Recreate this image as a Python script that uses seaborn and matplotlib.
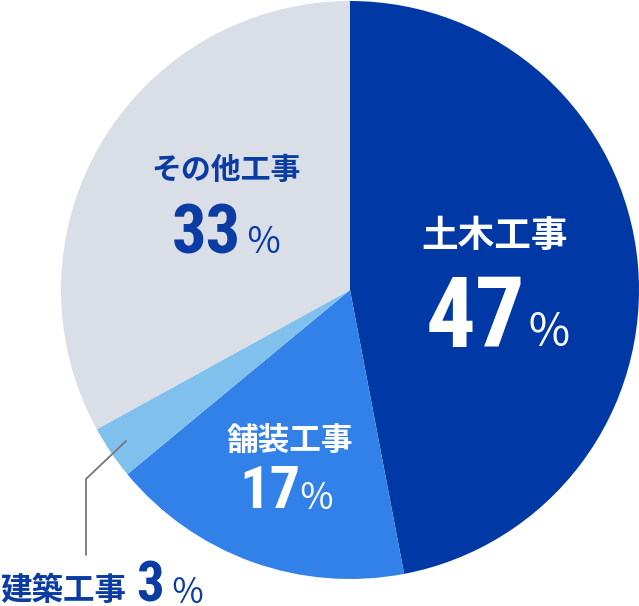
import matplotlib
matplotlib.use("Agg")
import matplotlib.pyplot as plt
from matplotlib.font_manager import FontProperties
from matplotlib.textpath import TextPath
import seaborn as sns

# ---- data ----
categories = ["土木工事", "舗装工事", "建築工事", "その他工事"]
values = [47, 17, 3, 33]
value_labels = ["47", "17", "3", "33"]
pct_sign = "％"
colors = ["#0039a6", "#3281e9", "#7fc1ec", "#d9dee7"]

sns.set_theme(style="white")
plt.rcParams['font.family'] = ['Noto Sans CJK JP', 'DejaVu Sans']

W, H = 639, 606
DPI = 100
fig = plt.figure(figsize=(W / DPI, H / DPI), dpi=DPI)
fig.patch.set_facecolor("white")
# circle: center (350, 290), radius 289 px
cx, cy, r = 350, 290, 289
ax = fig.add_axes([(cx - r) / W, (H - cy - r) / H, 2 * r / W, 2 * r / H])
ax.pie(values, colors=colors, startangle=90, counterclock=False,
       wedgeprops=dict(linewidth=0))
ax.set_xlim(-1, 1)
ax.set_ylim(-1, 1)
ax.set_aspect('auto')
ax.axis('off')

FP_LABEL = FontProperties(family='Noto Sans CJK JP', weight='bold')
FP_NUM = FontProperties(family='Roboto Condensed', weight='bold')
FP_PCT = FontProperties(family='Noto Sans CJK JP', weight='normal')

K = DPI / 72.0


def ink(s, fp, size):
    tp = TextPath((0, 0), s, size=size, prop=fp)
    e = tp.get_extents()
    return e.x0 * K, e.x1 * K, e.y0 * K, e.y1 * K


def place(s, fp, box, color, mode='h'):
    """Fit text to the ink box (by height, or by a height/width blend), centred in it."""
    x0, x1, top, bot = box
    s0 = 100.0
    a, b, c, d = ink(s, fp, s0)
    sh = s0 * (bot - top) / (d - c)
    sw = s0 * (x1 - x0) / (b - a)
    size = sh if mode == 'h' else (sh * sw) ** 0.5
    a, b, c, d = [v * size / s0 for v in (a, b, c, d)]
    px = (x0 + x1) / 2 - (a + b) / 2
    pyb = (top + bot) / 2 + (c + d) / 2
    p = fp.copy()
    p.set_size(size)
    fig.text(px / W, 1 - pyb / H, s, fontproperties=p, color=color,
             ha='left', va='baseline')


WHITE = "white"
DARK = "#0a3ca3"

# ink boxes (x0, x1, top, bottom) in pixels
# 土木工事 47%
place(categories[0], FP_LABEL, (420, 570, 217, 250), WHITE, 'm')
place(value_labels[0], FP_NUM, (432, 517, 277, 347), WHITE)
place(pct_sign, FP_PCT, (531, 567, 311, 347), WHITE, 'm')

# 舗装工事 17%
place(categories[1], FP_LABEL, (225, 354, 423, 452), WHITE, 'm')
place(value_labels[1], FP_NUM, (248, 293, 465, 508), WHITE)
place(pct_sign, FP_PCT, (300, 332, 482, 508), WHITE, 'm')

# その他工事 33%
place(categories[3], FP_LABEL, (148, 306, 155, 181), DARK, 'm')
place(value_labels[3], FP_NUM, (172, 240, 204, 254), DARK)
place(pct_sign, FP_PCT, (248, 278, 225, 253), DARK, 'm')

# 建築工事 3%
place(categories[2], FP_LABEL, (1, 125, 573, 603), DARK, 'm')
place(value_labels[2], FP_NUM, (137, 163, 562, 602), DARK)
place(pct_sign, FP_PCT, (172, 203, 578, 602), DARK, 'm')

# leader line
fig.add_artist(plt.Line2D([126 / W, 86 / W, 86 / W],
                          [1 - 441 / H, 1 - 479 / H, 1 - 555 / H],
                          color="#777777", linewidth=1.3, transform=fig.transFigure))

fig.savefig("out.png", dpi=DPI, facecolor="white")
